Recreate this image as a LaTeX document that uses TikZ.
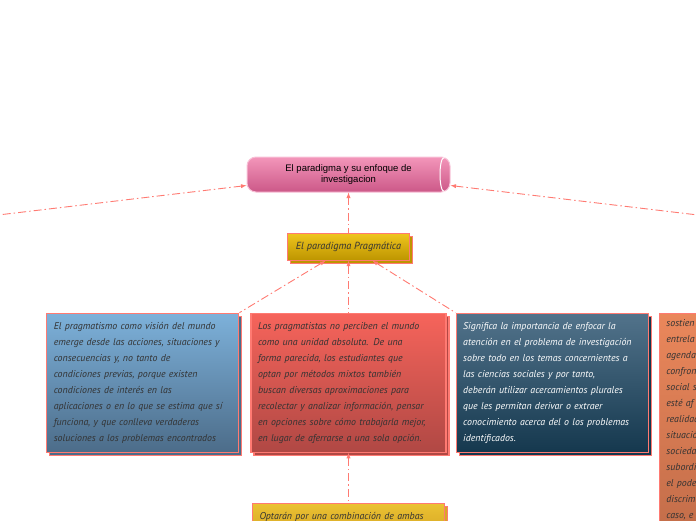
\documentclass[tikz,border=0pt]{standalone}
\usepackage{fontspec}
\setmainfont{Liberation Sans}
\newfontfamily\manofont{PT Sans}
\usetikzlibrary{positioning}
\usetikzlibrary{shapes}
\usetikzlibrary{arrows}
\definecolor{salmone}{HTML}{FF7A72}
\definecolor{rosaA}{HTML}{F396BA}
\definecolor{rosaB}{HTML}{CC5888}
\definecolor{oroA}{HTML}{F0C51E}
\definecolor{oroB}{HTML}{BD9500}
\definecolor{bluA}{HTML}{7DB1DA}
\definecolor{bluB}{HTML}{4C6C89}
\definecolor{rossoA}{HTML}{F6645B}
\definecolor{rossoB}{HTML}{B04844}
\definecolor{tealA}{HTML}{52738B}
\definecolor{tealB}{HTML}{15384E}
\definecolor{aranA}{HTML}{EA875B}
\definecolor{aranB}{HTML}{C46E4A}
\definecolor{gialloA}{HTML}{EBC232}
\definecolor{gialloB}{HTML}{D9A926}
\definecolor{inchiostro}{HTML}{333333}
\begin{document}
\begin{tikzpicture}[x=1pt,y=-1pt,align=left,
ramo/.style={latex-,draw=salmone,line width=0.9pt,dash pattern=on 8pt off 3pt on 1.5pt off 3pt},
ombra/.style={preaction={draw=salmone,line width=1.2pt,fill=#1,transform canvas={shift={(3pt,-3pt)}}}},
scheda/.style={draw=salmone,line width=1.2pt,minimum width=192pt,minimum height=139pt,inner xsep=7pt,inner ysep=4pt,text width=178pt,
  text=inchiostro,font=\manofont\itshape\fontsize{9.9}{16}\selectfont},
titolo/.style={rectangle,rounded corners=9pt,draw=rosaA!60!white,line width=1pt,minimum width=203pt,minimum height=35pt,
  top color=rosaA,bottom color=rosaB,align=center,font=\fontsize{9.5}{11.5}\selectfont},
pragma/.style={draw=salmone,line width=1.2pt,minimum width=122pt,minimum height=27pt,top color=oroA,bottom color=oroB,
  text=inchiostro,font=\manofont\itshape\fontsize{10.3}{11}\selectfont,ombra=oroB}
]
\useasboundingbox (0,0) rectangle (696,520);
\clip (0,0) rectangle (696,520);
%--
\node[titolo] (titolo) at (348.5,174.5) {El paradigma y su enfoque de\\investigacion};
\draw[white,line width=1pt] ([xshift=-6pt,yshift=-1pt]titolo.north east) .. controls ([xshift=-12pt]titolo.north east) and ([xshift=-12pt]titolo.south east) .. ([xshift=-6pt,yshift=1pt]titolo.south east);
\coordinate (sx) at (-2,215);
\coordinate (dx) at (698,215);
\draw[ramo] ([yshift=-11pt]titolo.west) -- (sx);
\draw[ramo] ([yshift=-11pt]titolo.east) -- (dx);
%--
\node[pragma,below=40pt of titolo] (pragma) {El paradigma Pragmática};
\draw[ramo] (titolo) -- (pragma);
%--
\node[scheda,top color=rossoA,bottom color=rossoB,ombra=rossoB,minimum width=195pt,text width=181pt,below=52pt of pragma] (rosso)
{Los pragmatistas no perciben el mundo\\como una unidad absoluta. De una\\forma parecida, los estudiantes que\\optan por métodos mixtos también\\buscan diversas aproximaciones para\\recolectar y analizar información, pensar\\en opciones sobre cómo trabajarla mejor,\\en lugar de aferrarse a una sola opción.};
\draw[ramo] (pragma) -- (rosso);
\node[scheda,top color=bluA,bottom color=bluB,ombra=bluB,left=11pt of rosso] (blu)
{El pragmatismo como visión del mundo\\emerge desde las acciones, situaciones y\\consecuencias y, no tanto de\\condiciones previas, porque existen\\condiciones de interés en las\\aplicaciones o en lo que se estima que sí\\funciona, y que conlleva verdaderas\\soluciones a los problemas encontrados};
\draw[ramo] ([xshift=-23pt]pragma.south) -- (blu.north east);
\node[scheda,top color=tealA,bottom color=tealB,ombra=tealB,text=white,right=9pt of rosso] (teal)
{Significa la importancia de enfocar la\\atención en el problema de investigación\\sobre todo en los temas concernientes a\\las ciencias sociales y por tanto,\\deberán utilizar acercamientos plurales\\que les permitan derivar o extraer\\conocimiento acerca del o los problemas\\identificados.};
\draw[ramo] ([xshift=24pt]pragma.south) -- (teal.north west);
%--
\node[scheda,top color=aranA,bottom color=aranB,ombra=aranB,minimum height=10pt,right=10pt of teal.north east,anchor=north west,inner ysep=6pt] (arancio)
{sostien\\entrela\\agenda\\confron\\social s\\esté af\\realidad\\situació\\socieda\\subordi\\el pode\\discrim\\caso, e};
%--
\node[scheda,top color=gialloA,bottom color=gialloB,ombra=gialloB,minimum height=10pt,below=50pt of rosso,inner ysep=9pt] (giallo)
{Optarán por una combinación de ambas};
\draw[ramo] (rosso) -- (giallo);
\end{tikzpicture}
\end{document}
